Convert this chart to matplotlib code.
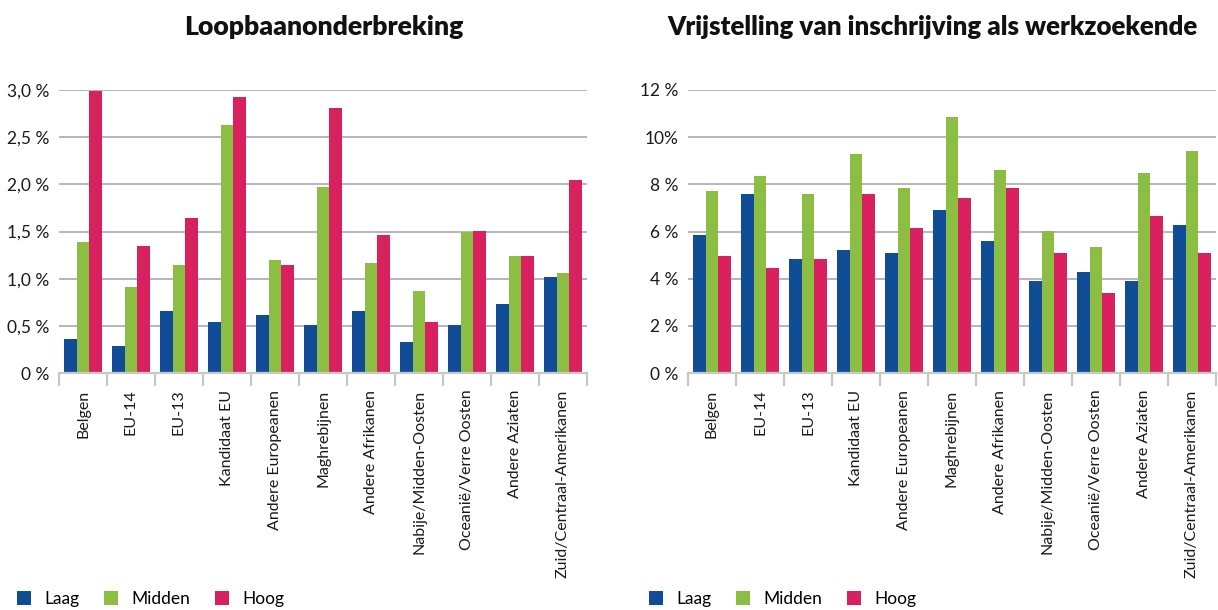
import matplotlib
matplotlib.use("Agg")
import matplotlib.pyplot as plt
import numpy as np
from matplotlib.patches import Patch

plt.rcParams['font.family'] = ['Lato', 'DejaVu Sans']

categories = ["Belgen", "EU-14", "EU-13", "Kandidaat EU", "Andere Europeanen",
              "Maghrebijnen", "Andere Afrikanen", "Nabije/Midden-Oosten",
              "Oceanië/Verre Oosten", "Andere Aziaten", "Zuid/Centraal-Amerikanen"]
series = ["Laag", "Midden", "Hoog"]

loop_laag = [0.36, 0.29, 0.66, 0.54, 0.62, 0.51, 0.66, 0.33, 0.51, 0.73, 1.02]
loop_midden = [1.39, 0.91, 1.14, 2.63, 1.20, 1.97, 1.17, 0.87, 1.50, 1.24, 1.06]
loop_hoog = [2.99, 1.35, 1.64, 2.93, 1.14, 2.81, 1.46, 0.54, 1.51, 1.24, 2.05]

vrij_laag = [5.86, 7.60, 4.84, 5.22, 5.10, 6.92, 5.60, 3.91, 4.29, 3.91, 6.28]
vrij_midden = [7.72, 8.36, 7.60, 9.29, 7.85, 10.86, 8.61, 6.03, 5.35, 8.48, 9.42]
vrij_hoog = [4.97, 4.46, 4.84, 7.60, 6.16, 7.43, 7.85, 5.10, 3.40, 6.66, 5.10]

loop_ticks = [0, 0.5, 1.0, 1.5, 2.0, 2.5, 3.0]
loop_ticklabels = ["0 %", "0,5 %", "1,0 %", "1,5 %", "2,0 %", "2,5 %", "3,0 %"]
vrij_ticks = [0, 2, 4, 6, 8, 10, 12]
vrij_ticklabels = ["0 %", "2 %", "4 %", "6 %", "8 %", "10%", "12 %"]

titles = ["Loopbaanonderbreking", "Vrijstelling van inschrijving als werkzoekende"]
colors = ["#114D97", "#8DBE44", "#DA2160"]

W, H = 1218, 610
fig = plt.figure(figsize=(W / 100, H / 100), dpi=100)

def make_axes(x0, x1):
    return fig.add_axes([x0 / W, 1 - 373 / H, (x1 - x0) / W, (373 - 90) / H])

ax1 = make_axes(59, 587)
ax2 = make_axes(688, 1216)

def draw(ax, data, ticks, ticklabels, ymax):
    x = np.arange(len(categories))
    bw = 0.26
    for i, (vals, c) in enumerate(zip(data, colors)):
        ax.bar(x + (i - 1) * bw, vals, width=bw, color=c, zorder=3, linewidth=0)
    ax.set_xlim(-0.5, len(categories) - 0.5)
    ax.set_ylim(0, ymax)
    ax.set_yticks(ticks)
    ax.set_yticklabels(ticklabels, fontsize=12.5, color="#1a1a1a")
    ax.yaxis.grid(True, color="#B5B5B5", linewidth=1.4, zorder=0)
    ax.tick_params(axis='y', length=0, pad=7)
    for s in ["top", "right", "left"]:
        ax.spines[s].set_visible(False)
    ax.spines["bottom"].set_color("#C8C8C8")
    ax.spines["bottom"].set_linewidth(1.6)
    ax.spines["bottom"].set_zorder(4)
    ax.set_xticks(x)
    ax.set_xticklabels(categories, rotation=90, fontsize=11.5, color="#1a1a1a")
    ax.tick_params(axis='x', which='major', length=0, pad=12)
    ax.set_xticks(np.arange(len(categories) + 1) - 0.5, minor=True)
    ax.tick_params(axis='x', which='minor', length=9, width=1.6, color="#C8C8C8")

draw(ax1, [loop_laag, loop_midden, loop_hoog], loop_ticks, loop_ticklabels, 3.0)
draw(ax2, [vrij_laag, vrij_midden, vrij_hoog], vrij_ticks, vrij_ticklabels, 12)

fig.text(324 / W, 1 - 27 / H, titles[0], ha="center", va="center",
         fontsize=19.2, fontweight="heavy", color="#111111")
fig.text(932 / W, 1 - 27 / H, titles[1], ha="center", va="center",
         fontsize=18.6, fontweight="heavy", color="#111111")

handles = [Patch(facecolor=c, edgecolor="none", label=s) for c, s in zip(colors, series)]
for xpos in [17, 649]:
    fig.legend(handles=handles, loc="center left", bbox_to_anchor=(xpos / W, 1 - 599 / H),
               ncol=3, frameon=False, fontsize=12.5, handlelength=0.8, handleheight=0.8,
               handletextpad=0.75, columnspacing=1.45, borderaxespad=0, borderpad=0)

fig.savefig("out.png", dpi=100)
